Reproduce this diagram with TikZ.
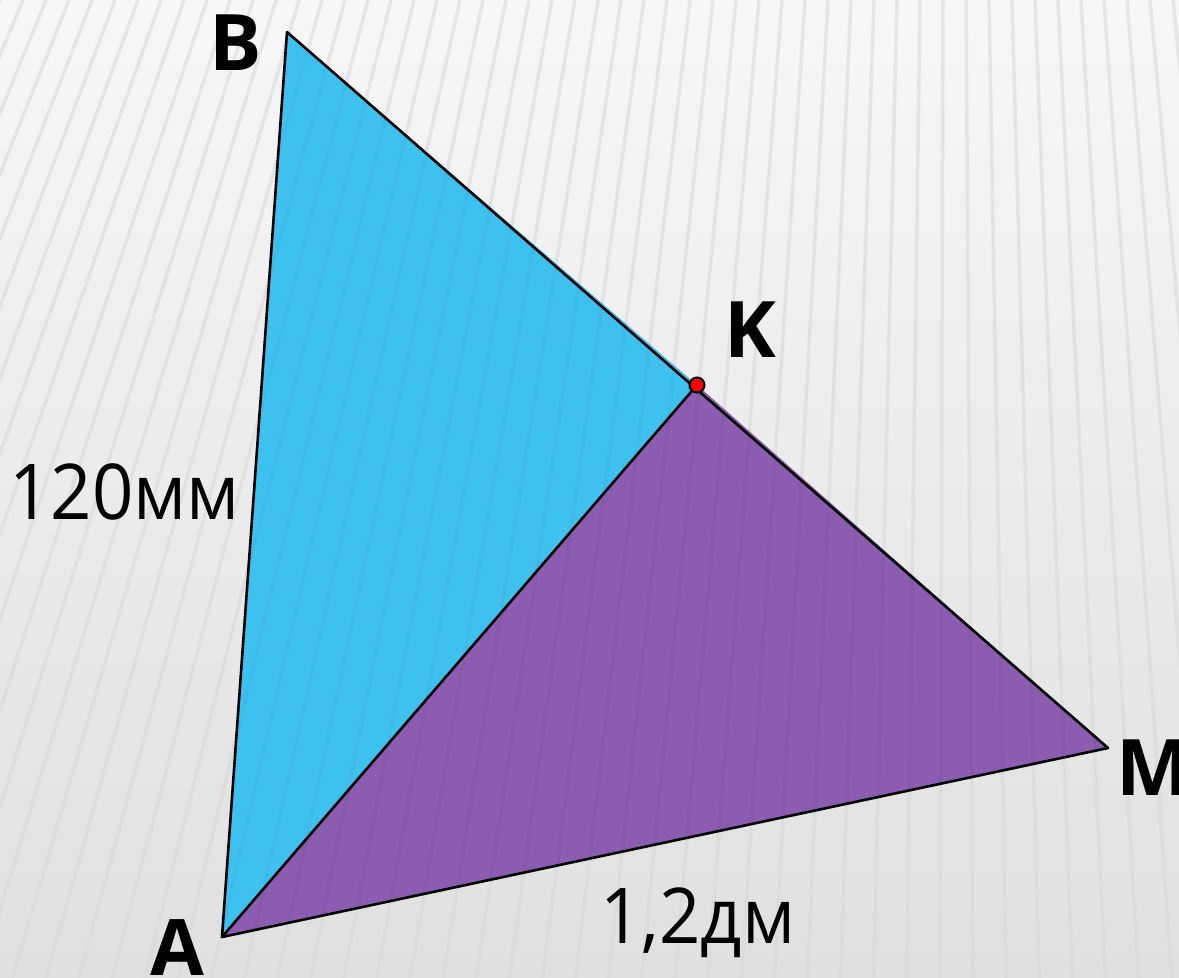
\documentclass[tikz,border=0pt]{standalone}
\usepackage{fontspec}
\setmainfont{Open Sans}
\newfontfamily\measfont[FakeStretch=0.94]{Open Sans}
\definecolor{bgtop}{HTML}{F7F7F7}
\definecolor{bgbot}{HTML}{E0E0E0}
\definecolor{stripecol}{HTML}{D8D8D8}
\definecolor{tribl}{HTML}{3FC1F0}
\definecolor{tripu}{HTML}{8B5CB0}
\definecolor{dotred}{HTML}{FF0000}
\tikzset{
  stripe/.style={draw=stripecol, line width=3.5pt, opacity=0.55},
  edge/.style={draw=black, line width=2.6pt, line join=round},
  vlabel/.style={font=\fontsize{78}{80}\selectfont\bfseries, anchor=base west, inner sep=0pt},
  mlabel/.style={font=\measfont\fontsize{77}{80}\selectfont, anchor=base west, inner sep=0pt},
  kdot/.style={circle, fill=dotred, draw=black, line width=2pt, minimum size=15pt, inner sep=0pt}
}
\begin{document}
\begin{tikzpicture}[x=1pt,y=-1pt]
\useasboundingbox (0,0) rectangle (1179,978);
\shade[top color=bgtop, bottom color=bgbot] (0,0) rectangle (1179,978);
\begin{scope}
  \clip (0,0) rectangle (1179,978);
  \foreach \i in {0,...,52} {
    \pgfmathsetmacro{\xt}{\i*23}
    \pgfmathsetmacro{\xb}{950+(\xt-950)*1.44}
    \draw[stripe] (\xt,0) -- (\xb,978);
  }
\end{scope}
\coordinate (A) at (222,937);
\coordinate (B) at (287,32);
\coordinate (K) at (697,385);
\coordinate (M) at (1108,748);
\fill[tribl] (A) -- (B) -- (K) -- cycle;
\fill[tripu] (A) -- (K) -- (M) -- cycle;
\begin{scope}
  \clip (A) -- (B) -- (K) -- (M) -- cycle;
  \foreach \i in {0,...,52} {
    \pgfmathsetmacro{\xt}{\i*23}
    \pgfmathsetmacro{\xb}{950+(\xt-950)*1.44}
    \draw[draw=black, line width=3.5pt, opacity=0.03] (\xt,0) -- (\xb,978);
  }
\end{scope}
\draw[edge] (A) -- (B) -- (M) -- cycle;
\draw[edge] (A) -- (K);
\node[kdot] (Kpt) at (K) {};
\node[vlabel] (lB) at (209,70) {B};
\node[vlabel] (lK) at (724,357) {K};
\node[vlabel] (lM) at (1116,795) {M};
\node[vlabel] (lA) at (150,975) {A};
\node[mlabel] (lAB) at (9,519) {120мм};
\node[mlabel] (lAM) at (600,943) {1,2дм};
\end{tikzpicture}
\end{document}
